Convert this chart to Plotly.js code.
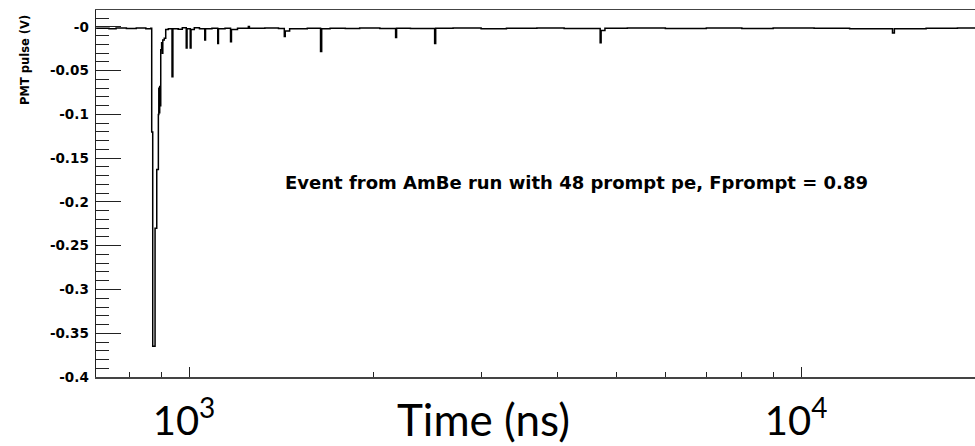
<!DOCTYPE html>
<html>
<head>
<meta charset="utf-8">
<script src="https://cdn.plot.ly/plotly-3.0.1.min.js"></script>
<style>html,body{margin:0;padding:0;background:#fff;}#chart{width:975px;height:446px;}</style>
</head>
<body>
<div id="chart"></div>
<script>
// Time (ns) of each histogram step and PMT pulse value (V) held until the next step
const timeNs = [705, 740, 760, 790, 820, 850, 866,
  869, 872.3, 880, 885.6, 891, 892.5, 894, 895.5, 897, 899, 902, 904.5, 906, 911, 916,
  925, 938, 941, 960, 975, 989.5, 992.5, 1004.5, 1007.5, 1020, 1040, 1061, 1064, 1090,
  1114, 1117, 1145, 1169, 1173, 1200, 1250, 1255, 1330, 1400, 1431, 1436, 1460,
  1560, 1640, 1647, 1700, 1800, 1900, 2050, 2175, 2183, 2300, 2519, 2529, 2700,
  3000, 3300, 3700, 4100, 4695, 4712, 4780, 5200, 6000, 7000, 8000, 9000,
  10500, 12000, 14100, 14200, 16000, 18000, 19500];
const pulseV = [-0.0015, -0.002, -0.0012, -0.0018, -0.0012, -0.002, -0.0015,
  -0.12, -0.365, -0.23, -0.163, -0.1, -0.07, -0.098, -0.068, -0.09, -0.026, -0.018, -0.03, -0.015, -0.013, -0.003,
  -0.002, -0.057, -0.002, -0.0025, -0.001, -0.024, -0.002, -0.024, -0.003, -0.001, -0.002, -0.015, -0.002, -0.0015,
  -0.019, -0.002, -0.0015, -0.017, -0.003, -0.0015, 0.0005, -0.0015, -0.0012, -0.0018, -0.011, -0.0045, -0.002,
  -0.0015, -0.028, -0.002, -0.0015, -0.0018, -0.0012, -0.0016, -0.012, -0.0015, -0.0018, -0.019, -0.0015, -0.0012,
  -0.002, -0.0015, -0.0012, -0.0018, -0.018, -0.004, -0.0015, -0.0012, -0.0018, -0.0012, -0.0018, -0.0012,
  -0.0015, -0.002, -0.007, -0.002, -0.0015, -0.0012, -0.0015];

const yTickVals = [0, -0.05, -0.1, -0.15, -0.2, -0.25, -0.3, -0.35, -0.4];
const yTickText = ['-0', '-0.05', '-0.1', '-0.15', '-0.2', '-0.25', '-0.3', '-0.35', '-0.4'];
const xTickVals = [1000, 10000];
const xTickText = ['10<sup>3</sup>', '10<sup>4</sup>'];
const xMinorVals = [800, 900, 2000, 3000, 4000, 5000, 6000, 7000, 8000, 9000, 20000];
const yMinorVals = [];
for (let k = 1; k >= -39; k--) { if (k % 5 !== 0) yMinorVals.push(k / 100); }

const axisTitleX = 'Time (ns)';
const axisTitleY = 'PMT pulse (V)';
const noteText = 'Event from AmBe run with 48 prompt pe, Fprompt = 0.89';

const trace = {
  x: timeNs, y: pulseV, type: 'scatter', mode: 'lines',
  line: {color: '#000', width: 1.5, shape: 'hv'}, hoverinfo: 'skip'
};

const layout = {
  width: 975, height: 446,
  margin: {l: 96, r: 0, t: 10, b: 69},
  paper_bgcolor: '#fff', plot_bgcolor: '#fff',
  showlegend: false,
  xaxis: {
    type: 'log', range: [2.848, 4.284],
    showline: true, linecolor: '#444', linewidth: 1.5, mirror: true,
    showgrid: false, zeroline: false,
    ticks: 'inside', ticklen: 10, tickwidth: 1, tickcolor: '#222',
    tickmode: 'array', tickvals: xTickVals, ticktext: xTickText,
    tickfont: {family: 'Lato', size: 40, color: '#000'},
    ticklabelshift: -5, ticklabelstandoff: 8,
    minor: {tickmode: 'array', tickvals: xMinorVals, ticks: 'inside', ticklen: 5, tickwidth: 1, tickcolor: '#222', showgrid: false}
  },
  yaxis: {
    range: [-0.4, 0.0194],
    showline: true, linecolor: '#222', linewidth: 1.5, mirror: false,
    showgrid: false, zeroline: false,
    ticks: 'inside', ticklen: 25, tickwidth: 1, tickcolor: '#222',
    tickmode: 'array', tickvals: yTickVals, ticktext: yTickText,
    tickfont: {family: 'DejaVu Sans', size: 13.5, color: '#000', weight: 'bold'},
    ticklabelstandoff: 3,
    minor: {tickmode: 'array', tickvals: yMinorVals, ticks: 'inside', ticklen: 13, tickwidth: 1, tickcolor: '#222', showgrid: false}
  },
  annotations: [
    {text: noteText, xref: 'paper', yref: 'paper', x: 0.547, y: 0.531, xanchor: 'center', yanchor: 'middle',
     showarrow: false, font: {family: 'DejaVu Sans', size: 18, color: '#000', weight: 'bold'}},
    {text: axisTitleX, xref: 'paper', yref: 'paper', x: 0.4403, y: -0.114, xanchor: 'center', yanchor: 'middle',
     showarrow: false, font: {family: 'Lato', size: 44, color: '#000'}},
    {text: axisTitleY, xref: 'paper', yref: 'paper', x: -0.0808, y: 0.864, xanchor: 'center', yanchor: 'middle',
     textangle: -90, showarrow: false, font: {family: 'DejaVu Sans', size: 11.5, color: '#000', weight: 'bold'}}
  ]
};

Plotly.newPlot('chart', [trace], layout, {staticPlot: true, displayModeBar: false});
</script>
</body>
</html>
